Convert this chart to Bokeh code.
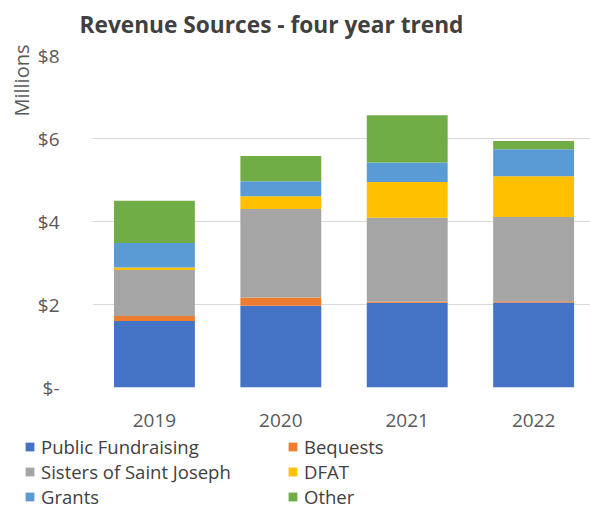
from bokeh.plotting import figure
from bokeh.layouts import column
from bokeh.models import (Range1d, FixedTicker, Legend, LegendItem, Title)
from bokeh.embed import file_html
from bokeh.resources import INLINE

# ---- data ($ millions) ----
years = [2019, 2020, 2021, 2022]
public_fundraising = [1.60, 1.97, 2.04, 2.05]
bequests = [0.12, 0.20, 0.03, 0.03]
sisters_of_saint_joseph = [1.11, 2.13, 2.02, 2.03]
dfat = [0.06, 0.31, 0.86, 0.98]
grants = [0.59, 0.36, 0.47, 0.65]
other = [1.02, 0.61, 1.14, 0.20]

series_names = ["Public Fundraising", "Bequests", "Sisters of Saint Joseph",
                "DFAT", "Grants", "Other"]
series_values = [public_fundraising, bequests, sisters_of_saint_joseph,
                 dfat, grants, other]
colors = ["#4472C4", "#ED7D31", "#A5A5A5", "#FFC000", "#5B9BD5", "#70AD47"]

y_ticks = [0, 2, 4, 6, 8]
y_tick_labels = ["$-", "$2", "$4", "$6", "$8"]

FONT = "Open Sans"
GREY = "#595959"

source = {"year": years}
for name, vals in zip(series_names, series_values):
    source[name] = vals

p = figure(width=590, height=433, output_backend="svg", toolbar_location=None,
           x_range=Range1d(2018.51, 2022.45), y_range=Range1d(0, 8),
           min_border_left=92, min_border_right=0, min_border_top=55,
           min_border_bottom=46, outline_line_color=None,
           background_fill_color="white", border_fill_color="white")

# title: a thin spacer next to the frame, then the title text above it
p.add_layout(Title(text=" ", text_font_size="1px", standoff=13), "above")
p.add_layout(Title(text="Revenue Sources - four year trend", text_font=FONT,
                   text_font_size="22.7px", text_font_style="bold",
                   text_color="#404040", align="left", vertical_align="bottom",
                   offset=-13, standoff=0), "above")

renderers = p.vbar_stack(series_names, x="year", width=0.64, source=source,
                         color=colors, line_color=None)

# axes
p.xaxis.ticker = FixedTicker(ticks=years)
p.xaxis.major_label_overrides = {y: str(y) for y in years}
p.yaxis.ticker = FixedTicker(ticks=y_ticks)
p.yaxis.major_label_overrides = {t: l for t, l in zip(y_ticks, y_tick_labels)}
for ax in (p.xaxis, p.yaxis):
    ax.axis_line_color = None
    ax.major_tick_line_color = None
    ax.minor_tick_line_color = None
    ax.major_label_text_font = FONT
    ax.major_label_text_font_size = "19px"
    ax.major_label_text_color = GREY
p.xaxis.major_label_standoff = 20
p.yaxis.major_label_standoff = 27

p.xgrid.grid_line_color = None
p.ygrid.grid_line_color = "#D9D9D9"
p.ygrid.grid_line_width = 1

p.add_layout(Title(text="Millions", align="right", offset=-11, standoff=0,
                   text_font=FONT, text_font_size="20px",
                   text_font_style="normal", text_color=GREY), "left")

# ---- legend strip: same stacked series, drawn out of view ----
lg = figure(width=590, height=76, output_backend="svg", toolbar_location=None,
            x_axis_type=None, y_axis_type=None, min_border=0,
            min_border_left=0, min_border_right=0, min_border_top=0,
            min_border_bottom=0,
            outline_line_color=None, x_range=Range1d(0, 1), y_range=Range1d(0, 1))
lg.xgrid.visible = False
lg.ygrid.visible = False
legend_renderers = lg.vbar_stack(series_names, x="year", width=0.64,
                                 source=source, color=colors, line_color=None)
for fig in (p, lg):
    if "frame_align" in fig.properties():
        fig.frame_align = False

items = [LegendItem(label=n, renderers=[r])
         for n, r in zip(series_names, legend_renderers)]
legend = Legend(items=items, orientation="horizontal", ncols=2,
                location=(24, 0), padding=0, margin=0, spacing=0,
                label_width=246, label_standoff=6, glyph_width=11, glyph_height=11,
                label_text_font=FONT, label_text_font_size="18.5px",
                label_text_color="#404040", border_line_color=None,
                background_fill_alpha=0)
lg.add_layout(legend, "center")

layout = column(p, lg, spacing=0)
open("out.html", "w").write(file_html(layout, INLINE))
